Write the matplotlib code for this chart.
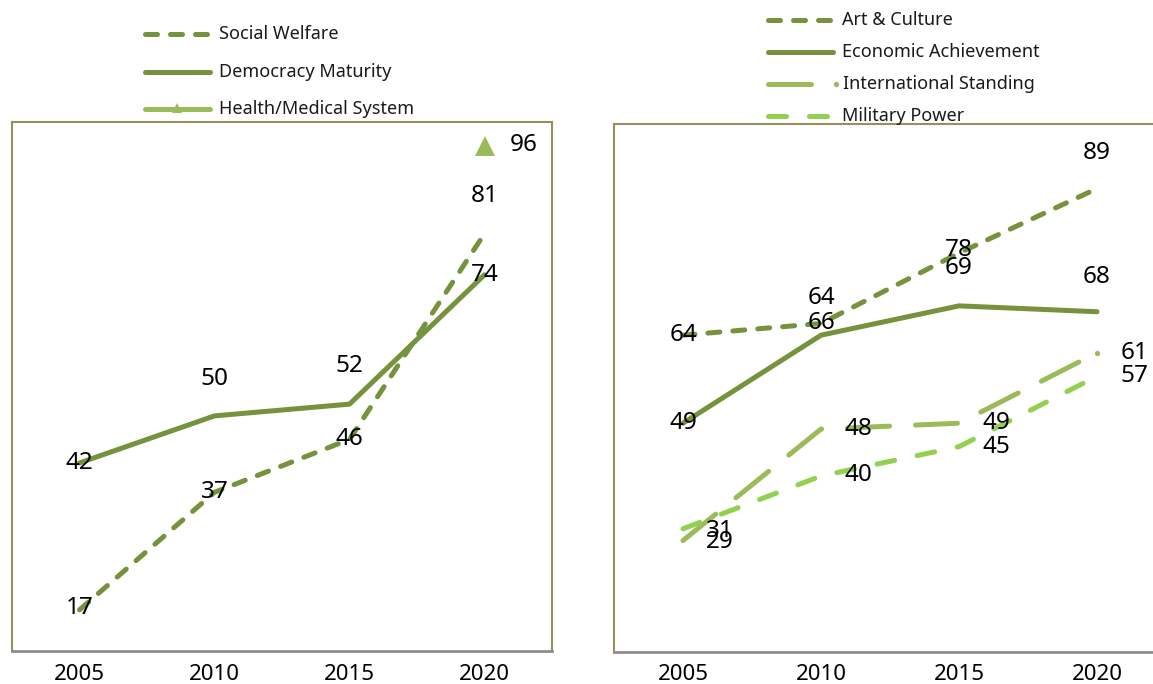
import matplotlib
matplotlib.use("Agg")
import matplotlib.pyplot as plt
from matplotlib.lines import Line2D

# Survey scores by year
years = ["2005", "2010", "2015", "2020"]
social_welfare = [17, 37, 46, 81]
democracy = [42, 50, 52, 74]
health_2020 = 96
art_culture = [64, 66, 78, 89]
economic = [49, 64, 69, 68]
international = [29, 48, 49, 61]
military = [31, 40, 45, 57]

DARK = "#76923C"
MID = "#9BBB59"
LIGHT = "#92D050"
FRAME = "#988F5C"
BASE = "#8C8C8C"

plt.rcParams["font.family"] = ["Noto Sans", "DejaVu Sans"]

W, H = 1153, 684
fig = plt.figure(figsize=(W / 100, H / 100), dpi=100)


def px_rect(x0, y0, x1, y1):
    return [x0 / W, 1 - y1 / H, (x1 - x0) / W, (y1 - y0) / H]


LW = 3.6
DASH = (0, (2.4, 2.6))
LONG_DASH = (0, (8.4, 5.2))
MED_DASH = (0, (3.6, 4.6))

ax1 = fig.add_axes(px_rect(12, 122, 552, 651))
ax2 = fig.add_axes(px_rect(614, 124, 1166, 652))

for ax in (ax1, ax2):
    ax.set_xlim(-0.5, 3.5)
    ax.set_ylim(10, 100)
    ax.set_xticks(range(len(years)))
    ax.set_xticklabels(years, fontsize=16)
    ax.tick_params(axis="x", length=0, pad=9)
    ax.set_yticks([])
    for side in ("top", "left", "right"):
        ax.spines[side].set_color(FRAME)
        ax.spines[side].set_linewidth(1.5)
    ax.spines["bottom"].set_color(BASE)
    ax.spines["bottom"].set_linewidth(2)

x = list(range(len(years)))

# Left panel
ax1.plot(x, democracy, color=DARK, lw=LW, solid_capstyle="round")
ax1.plot(x, social_welfare, color=DARK, lw=LW, linestyle=DASH,
         dash_capstyle="round")
ax1.plot([3], [health_2020], linestyle="none", marker="^", ms=15,
         color=MID, markeredgewidth=0)


def label(ax, i, v, dx=0, dy=0):
    ax.annotate(str(v), (i, v), xytext=(dx, dy), textcoords="offset pixels",
                ha="center", va="center", fontsize=17.5, color="black")


for i, (v, dy) in enumerate(zip(democracy, [0, 37, 38, 0])):
    label(ax1, i, v, 0, dy)
for i, (v, dy) in enumerate(zip(social_welfare, [2, 0, 0, 38])):
    label(ax1, i, v, 0, dy)
label(ax1, 3, health_2020, 39, 1)

# Right panel
ax2.plot(x, economic, color=DARK, lw=LW, solid_capstyle="round")
ax2.plot(x, art_culture, color=DARK, lw=LW, linestyle=DASH,
         dash_capstyle="round")
ax2.plot(x, international, color=MID, lw=LW, linestyle=LONG_DASH,
         dash_capstyle="round")
ax2.plot(x[-1:], international[-1:], linestyle="none", marker="o", ms=3.8,
         color=MID, markeredgewidth=0)
ax2.plot(x, military, color=LIGHT, lw=LW, linestyle=MED_DASH,
         dash_capstyle="round")

for i, (v, dy) in enumerate(zip(art_culture, [0, 0, 3, 36])):
    label(ax2, i, v, 0, dy)
for i, (v, dy) in enumerate(zip(economic, [0, 37, 38, 35])):
    label(ax2, i, v, 0, dy)
for i, (v, dy) in enumerate(zip(international, [-1, 0, 0, 0])):
    label(ax2, i, v, 37, dy)
for i, (v, dy) in enumerate(zip(military, [-2, 1, 0, 0])):
    label(ax2, i, v, 37, dy)


# Legends
def to_fig(px, py):
    return px / W, 1 - py / H


def legend_text(x0, y, text):
    fx, fy = to_fig(x0, y)
    fig.text(fx, fy, text, fontsize=13, ha="left", va="center",
             color="#1a1a1a")


def legend_line(x0, x1, y, **style):
    (fx0, fy), (fx1, _) = to_fig(x0 + 2.5, y), to_fig(x1 - 2.5, y)
    fig.add_artist(Line2D([fx0, fx1], [fy, fy], transform=fig.transFigure,
                          lw=LW, **style))


def legend_entry(x0, y, text, **style):
    legend_line(x0, x0 + 70, y, **style)
    legend_text(x0 + 77, y, text)


legend_entry(142, 34, "Social Welfare", color=DARK, linestyle=DASH,
             dash_capstyle="round")
legend_entry(142, 72, "Democracy Maturity", color=DARK,
             solid_capstyle="round")
legend_entry(142, 109, "Health/Medical System", color=MID,
             solid_capstyle="round")
fx, fy = to_fig(177, 108)
fig.add_artist(Line2D([fx], [fy], transform=fig.transFigure,
                      linestyle="none", marker="^", ms=7, color=MID,
                      markeredgewidth=0))

legend_entry(765, 20, "Art & Culture", color=DARK, linestyle=DASH,
             dash_capstyle="round")
legend_entry(765, 52, "Economic Achievement", color=DARK,
             solid_capstyle="round")
legend_line(765, 813, 84, color=MID, solid_capstyle="round")
fx, fy = to_fig(836, 84)
fig.add_artist(Line2D([fx], [fy], transform=fig.transFigure,
                      linestyle="none", marker="o", ms=3.8, color=MID,
                      markeredgewidth=0))
legend_text(843, 84, "International Standing")
legend_entry(765, 116, "Military Power", color=LIGHT, linestyle=MED_DASH,
             dash_capstyle="round")

fig.savefig("out.png", dpi=100)
